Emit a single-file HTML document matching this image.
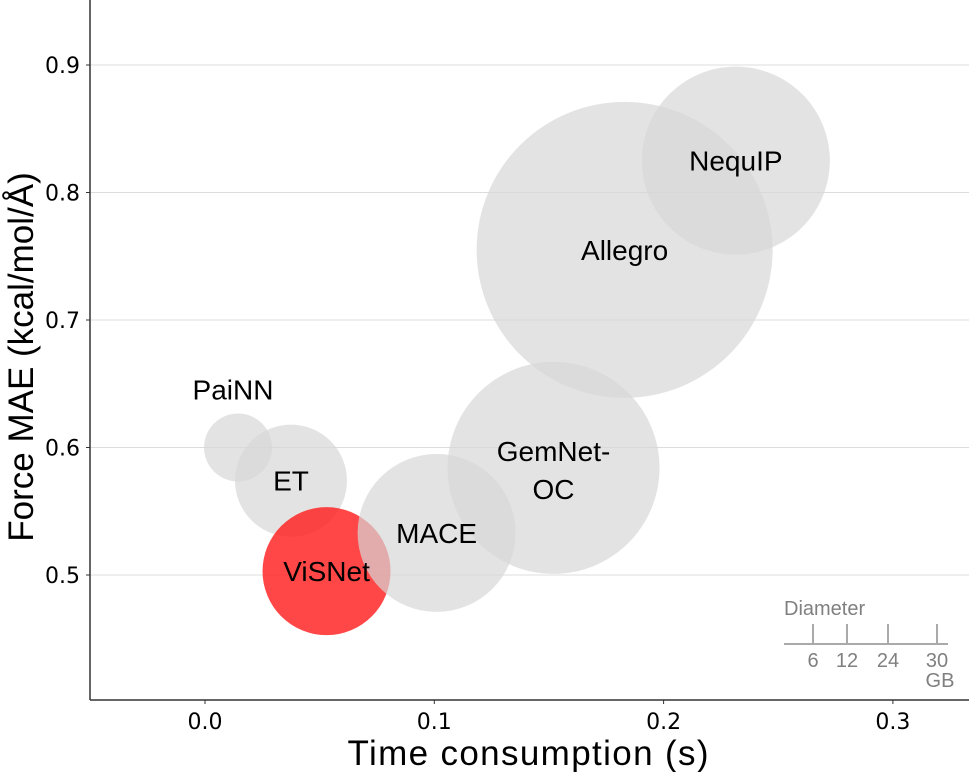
<!DOCTYPE html>
<html><head><meta charset="utf-8"><style>
body{margin:0;background:#fff;}
svg{display:block;font-family:"Liberation Sans",Arial,sans-serif;}
</style></head><body>
<svg id="chart" width="969" height="772">
<g id="grid"></g>
<g id="bubbles"></g>
<g id="labels"></g>
<line x1="90" y1="0" x2="90" y2="700" stroke="#333" stroke-width="1.5"/>
<line x1="90" y1="700" x2="969" y2="700" stroke="#333" stroke-width="1.5"/>
<g id="xticks"></g>
<g id="yticks"></g>
<text x="528" y="765" font-size="35" text-anchor="middle" textLength="361">Time consumption (s)</text>
<text transform="translate(33,357) rotate(-90)" font-size="35" text-anchor="middle">Force MAE (kcal/mol/Å)</text>
<g fill="#808080" font-size="20">
<text x="784" y="615">Diameter</text>
<line x1="784" y1="644" x2="948" y2="644" stroke="#aaa" stroke-width="2"/>
<line x1="813" y1="624" x2="813" y2="644" stroke="#aaa" stroke-width="2"/>
<line x1="847" y1="624" x2="847" y2="644" stroke="#aaa" stroke-width="2"/>
<line x1="888" y1="624" x2="888" y2="644" stroke="#aaa" stroke-width="2"/>
<line x1="937" y1="624" x2="937" y2="644" stroke="#aaa" stroke-width="2"/>
<text x="813" y="667" text-anchor="middle">6</text>
<text x="847" y="667" text-anchor="middle">12</text>
<text x="888" y="667" text-anchor="middle">24</text>
<text x="937" y="667" text-anchor="middle">30</text>
<text x="940" y="687" text-anchor="middle">GB</text>
</g>
</svg>
<script>
const models=["PaiNN","ET","ViSNet","MACE","GemNet-OC","Allegro","NequIP"];
const timeS=[0.0144,0.0375,0.053,0.101,0.152,0.183,0.2315];
const forceMAE=[0.600,0.574,0.503,0.533,0.584,0.755,0.825];
const memoryGB=[6.8,11.2,12.8,15.8,21.2,29.6,18.8];
const xTicks=[0.0,0.1,0.2,0.3];
const yTicks=[0.5,0.6,0.7,0.8,0.9];
const NS="http://www.w3.org/2000/svg";
const xs=v=>205+v*2293;
const ys=v=>575-(v-0.5)*1275;
const rs=g=>g*5;
function mk(t,a,p){const e=document.createElementNS(NS,t);for(const k in a)e.setAttribute(k,a[k]);p.appendChild(e);return e;}
const grid=document.getElementById('grid'),yt=document.getElementById('yticks'),xt=document.getElementById('xticks');
const tf='"DejaVu Sans",sans-serif';
yTicks.forEach(v=>{
 const l=mk('line',{x1:90,x2:969,y1:ys(v),y2:ys(v),stroke:'#dcdcdc','stroke-width':1},grid);
 
 
 mk('line',{x1:86,x2:90,y1:ys(v),y2:ys(v),stroke:'#333'},yt);
 const t=mk('text',{x:80,y:ys(v)+8,'font-size':22,'font-family':tf,'text-anchor':'end'},yt);t.textContent=v.toFixed(1);
 
 
});
xTicks.forEach(v=>{
 mk('line',{x1:xs(v),x2:xs(v),y1:700,y2:704,stroke:'#333'},xt);
 const t=mk('text',{x:xs(v),y:729,'font-size':22,'font-family':tf,'text-anchor':'middle'},xt);t.textContent=v.toFixed(1);
 
 
});
const bg=document.getElementById('bubbles'),lg=document.getElementById('labels');
models.forEach((m,i)=>{
 const red=m==="ViSNet";
 const c=mk('circle',{cx:xs(timeS[i]),cy:ys(forceMAE[i]),r:rs(memoryGB[i]),fill:red?'rgba(255,25,25,0.8)':'rgba(215,215,215,0.7)'},bg);
 
 
 const cx=xs(timeS[i]),cy=ys(forceMAE[i]);
 const t=mk('text',{x:cx,y:cy+10,'font-size':28,'text-anchor':'middle'},lg);
 
 
 if(m==="PaiNN"){t.setAttribute('x',cx-5);t.setAttribute('y',cy-48);t.textContent=m;}
 else if(m==="GemNet-OC"){
  const a=mk('tspan',{x:cx,y:cy-7},t);a.textContent="GemNet-";
  const b=mk('tspan',{x:cx,y:cy+31},t);b.textContent="OC";
 } else t.textContent=m;
});
</script>
</body></html>
